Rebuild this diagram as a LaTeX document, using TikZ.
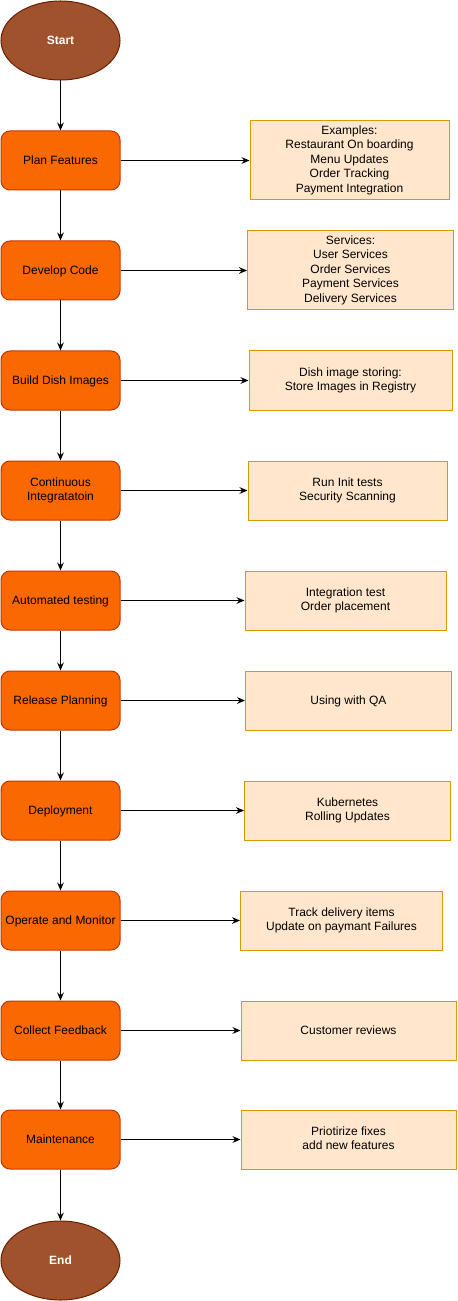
\documentclass[tikz,border=0pt]{standalone}
\usepackage{fontspec}
\setmainfont{Liberation Sans}
\usetikzlibrary{shapes.geometric,arrows.meta}
\definecolor{obfill}{HTML}{FA6800}
\definecolor{obdraw}{HTML}{C73500}
\definecolor{elfill}{HTML}{A0522D}
\definecolor{eldraw}{HTML}{6D1F00}
\definecolor{lbfill}{HTML}{FFE6CC}
\definecolor{lbdraw}{HTML}{D79B00}
\newcommand\mytopstrut{\rule{0pt}{8.52pt}}
\newcommand\mybotstrut{\rule[-2.28pt]{0pt}{2.28pt}}
\tikzset{
  struts/.style={execute at begin node=\mytopstrut, execute at end node=\mybotstrut},
  stepbox/.style={struts, draw=obdraw, fill=obfill, rounded corners=6.75pt, minimum width=89.25pt, minimum height=44.25pt, inner sep=1pt, align=center, font=\fontsize{9pt}{10.8pt}\selectfont, text=black, line width=0.75pt},
  termnode/.style={struts, ellipse, draw=eldraw, fill=elfill, minimum width=89.25pt, minimum height=59.25pt, inner sep=0pt, font=\fontsize{9pt}{10.8pt}\selectfont\bfseries, text=white, line width=0.75pt},
  notebox/.style={struts, draw=lbdraw, fill=lbfill, inner sep=1pt, align=center, font=\fontsize{9pt}{10.8pt}\selectfont, text=black, line width=0.75pt},
  flow/.style={draw=black, line width=0.75pt, -{Stealth[length=6pt, width=5pt, inset=2pt]}}
}
\begin{document}
\begin{tikzpicture}[x=0.75pt, y=-0.75pt]
\useasboundingbox (0,0) rectangle (457,1301);
% left column
\node[termnode] (start) at (60.5,40.5) {Start};
\node[stepbox] (pf) at (60.5,160.5) {Plan Features};
\node[stepbox] (dc) at (60.5,270.5) {Develop Code};
\node[stepbox] (bd) at (60.5,380.5) {Build Dish Images};
\node[stepbox] (ci) at (60.5,490.5) {Continuous\\Integratatoin};
\node[stepbox] (at) at (60.5,600.5) {Automated testing};
\node[stepbox] (rp) at (60.5,700.5) {Release Planning};
\node[stepbox] (dp) at (60.5,810.5) {Deployment};
\node[stepbox] (om) at (60.5,920.5) {Operate and Monitor};
\node[stepbox] (cf) at (60.5,1030.5) {Collect Feedback};
\node[stepbox] (mt) at (60.5,1139.5) {Maintenance};
\node[termnode] (end) at (60.5,1260.5) {End};
% right column
\node[notebox, minimum width=149.25pt, minimum height=59.25pt] (nex) at (349.5,160.5) {Examples:\\Restaurant On boarding\\Menu Updates\\Order Tracking\\Payment Integration};
\node[notebox, minimum width=154.5pt, minimum height=59.25pt] (nsv) at (350.5,270.5) {Services:\\User Services\\Order Services\\Payment Services\\Delivery Services};
\node[notebox, minimum width=152.25pt, minimum height=44.25pt] (nbd) at (350.5,380.5) {Dish image storing:\\Store Images in Registry};
\node[notebox, minimum width=149.25pt, minimum height=44.25pt] (nci) at (347.5,490.5) {Run Init tests\\Security Scanning};
\node[notebox, minimum width=150.75pt, minimum height=44.25pt] (nat) at (345.5,600.5) {Integration test\\Order placement};
\node[notebox, minimum width=154.5pt, minimum height=44.25pt] (nrp) at (348.5,700.5) {Using with QA};
\node[notebox, minimum width=154.5pt, minimum height=44.25pt] (ndp) at (347.5,810.5) {Kubernetes\\Rolling Updates};
\node[notebox, minimum width=151.5pt, minimum height=44.25pt] (nom) at (341.5,920.5) {Track delivery items\\Update on paymant Failures};
\node[notebox, minimum width=161.25pt, minimum height=44.25pt] (ncf) at (348.5,1030.5) {Customer reviews};
\node[notebox, minimum width=161.25pt, minimum height=44.25pt] (nmt) at (348.5,1139.5) {Priotirize fixes\\add new features};
% vertical flow
\draw[flow] (start) -- (pf);
\draw[flow] (pf) -- (dc);
\draw[flow] (dc) -- (bd);
\draw[flow] (bd) -- (ci);
\draw[flow] (ci) -- (at);
\draw[flow] (at) -- (rp);
\draw[flow] (rp) -- (dp);
\draw[flow] (dp) -- (om);
\draw[flow] (om) -- (cf);
\draw[flow] (cf) -- (mt);
\draw[flow] (mt) -- (end);
% horizontal arrows
\draw[flow] (pf.east) -- (nex.west);
\draw[flow] (dc.east) -- (nsv.west);
\draw[flow] (bd.east) -- (nbd.west);
\draw[flow] (ci.east) -- (nci.west);
\draw[flow] (at.east) -- (nat.west);
\draw[flow] (rp.east) -- (nrp.west);
\draw[flow] (dp.east) -- (ndp.west);
\draw[flow] (om.east) -- (nom.west);
\draw[flow] (cf.east) -- (ncf.west);
\draw[flow] (mt.east) -- (nmt.west);
\end{tikzpicture}
\end{document}
